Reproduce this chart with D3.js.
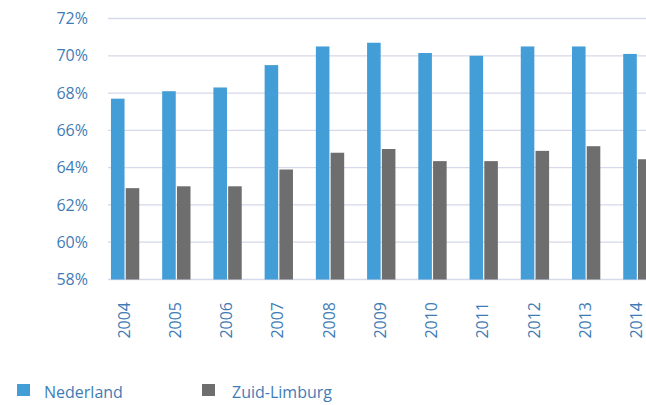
<!DOCTYPE html>
<html>
<head>
<meta charset="utf-8">
<script src="https://cdn.jsdelivr.net/npm/d3@7"></script>
<style>
    html, body { margin: 0; padding: 0; background: #fff; overflow: hidden; }
    svg { display: block; font-family: "Open Sans", sans-serif; }
</style>
</head>
<body>
<div id="vis-container"></div>
<script>
"use strict";

// Data
const years = ["2004", "2005", "2006", "2007", "2008", "2009", "2010", "2011", "2012", "2013", "2014"];
const seriesNames = ["Nederland", "Zuid-Limburg"];
const nederland = [67.7, 68.1, 68.3, 69.5, 70.5, 70.7, 70.15, 70.0, 70.5, 70.5, 70.1];
const zuidLimburg = [62.9, 63.0, 63.0, 63.9, 64.8, 65.0, 64.35, 64.35, 64.9, 65.15, 64.45];
const yTicks = [58, 60, 62, 64, 66, 68, 70, 72];

function mainIndex()
{
    const width = 646;
    const height = 405;

    const colors = { "Nederland": "#439dd7", "Zuid-Limburg": "#6e6e6e" };
    const textColor = "#3f7cb6";

    const svg = d3.select("#vis-container")
        .append("svg")
        .attr("width", width)
        .attr("height", height);

    // Scales
    const y = d3.scaleLinear().domain([58, 72]).range([279.5, 18.5]);

    const x = d3.scaleBand()
        .domain(years)
        .range([99.5, 663])
        .paddingInner(0.447)
        .paddingOuter(0.2235);

    const xSub = d3.scaleBand()
        .domain(seriesNames)
        .range([0, x.bandwidth()])
        .paddingInner(0.08);

    // Gridlines
    svg.append("g")
        .selectAll("line")
        .data(yTicks)
        .enter()
        .append("line")
        .attr("x1", 108)
        .attr("x2", width)
        .attr("y1", d => y(d))
        .attr("y2", d => y(d))
        .attr("stroke", "#d5d9e9")
        .attr("stroke-width", 1.3);

    // Y labels
    svg.append("g")
        .selectAll("text")
        .data(yTicks)
        .enter()
        .append("text")
        .attr("x", 88)
        .attr("y", d => y(d))
        .attr("dy", "0.35em")
        .attr("text-anchor", "end")
        .style("font-size", "16px")
        .style("fill", textColor)
        .text(d => d + "%");

    // Bars
    const rows = years.map((yr, i) => ({
        year: yr,
        values: [
            { name: "Nederland", value: nederland[i] },
            { name: "Zuid-Limburg", value: zuidLimburg[i] }
        ]
    }));

    const groups = svg.append("g")
        .selectAll("g")
        .data(rows)
        .enter()
        .append("g")
        .attr("transform", d => `translate(${x(d.year)},0)`);

    groups.selectAll("rect")
        .data(d => d.values)
        .enter()
        .append("rect")
        .attr("x", d => xSub(d.name))
        .attr("width", xSub.bandwidth())
        .attr("y", d => y(d.value))
        .attr("height", d => y(58) - y(d.value))
        .attr("fill", d => colors[d.name]);

    // X labels (rotated)
    svg.append("g")
        .selectAll("text")
        .data(years)
        .enter()
        .append("text")
        .attr("transform", d => `translate(${x(d) + x.bandwidth() / 2 - 1},302) rotate(-90)`)
        .attr("dy", "0.35em")
        .attr("text-anchor", "end")
        .style("font-size", "16px")
        .style("fill", textColor)
        .text(d => d);

    // Legend
    const legendX = [17, 202];
    const legend = svg.append("g")
        .selectAll("g")
        .data(seriesNames)
        .enter()
        .append("g")
        .attr("transform", (d, i) => `translate(${legendX[i]},384)`);

    legend.append("rect")
        .attr("width", 13)
        .attr("height", 12)
        .attr("fill", d => colors[d]);

    legend.append("text")
        .attr("x", (d, i) => i === 0 ? 27 : 30)
        .attr("y", 14)
        .style("font-size", "16px")
        .style("fill", textColor)
        .text(d => d);
}

document.addEventListener("DOMContentLoaded", mainIndex);
</script>
</body>
</html>
